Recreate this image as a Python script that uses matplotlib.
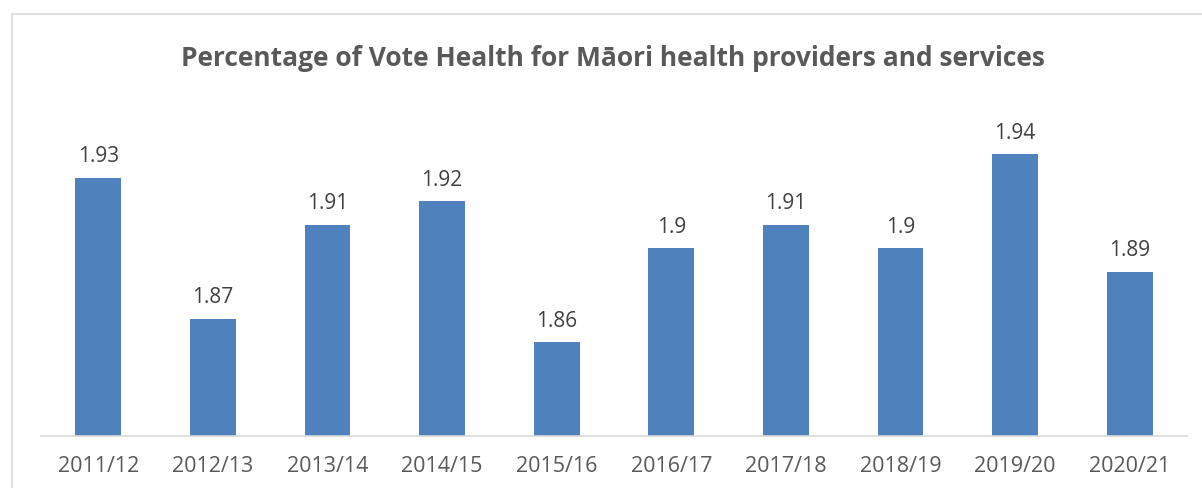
import matplotlib
matplotlib.use("Agg")
import matplotlib.pyplot as plt
from matplotlib.patches import Rectangle

categories = ["2011/12", "2012/13", "2013/14", "2014/15", "2015/16",
              "2016/17", "2017/18", "2018/19", "2019/20", "2020/21"]
values = [1.93, 1.87, 1.91, 1.92, 1.86, 1.90, 1.91, 1.90, 1.94, 1.89]
labels = ["1.93", "1.87", "1.91", "1.92", "1.86", "1.9", "1.91", "1.9", "1.94", "1.89"]
title = "Percentage of Vote Health for Māori health providers and services"

W, H = 1202, 489
fig = plt.figure(figsize=(W / 100, H / 100), dpi=100)
plt.rcParams['font.family'] = ['Open Sans', 'DejaVu Sans']

# chart border (light grey), extends beyond image right/bottom
fig.patches.append(Rectangle((12 / W, -0.1), 1.2, 1 - 15 / H + 0.1,
                             transform=fig.transFigure, fill=False,
                             edgecolor="#d9d9d9", linewidth=1.2))

ax = fig.add_axes([41 / W, 1 - 437 / H, (1187 - 41) / W, (437 - 131.5) / H])
x = list(range(len(categories)))
ax.bar(x, values, width=0.40, color="#4f81bd", zorder=2)
ax.set_xlim(-0.5, len(categories) - 0.5)
ax.set_ylim(1.82, 1.95)

for xi, v, lab in zip(x, values, labels):
    ax.annotate(lab, (xi, v), xytext=(0, 8), textcoords="offset points",
                ha="center", va="bottom", fontsize=15, color="#404040")

for s in ["top", "right", "left"]:
    ax.spines[s].set_visible(False)
ax.spines["bottom"].set_color("#d9d9d9")
ax.spines["bottom"].set_linewidth(1.2)
ax.set_yticks([])
ax.set_xticks(x)
ax.set_xticklabels(categories, fontsize=15.5, color="#595959")
ax.tick_params(axis="x", length=0, pad=14)

fig.text(613 / W, 1 - 58 / H, title, ha="center", va="center",
         fontsize=19, fontweight="bold", color="#595959")

fig.savefig("out.png", dpi=100)
